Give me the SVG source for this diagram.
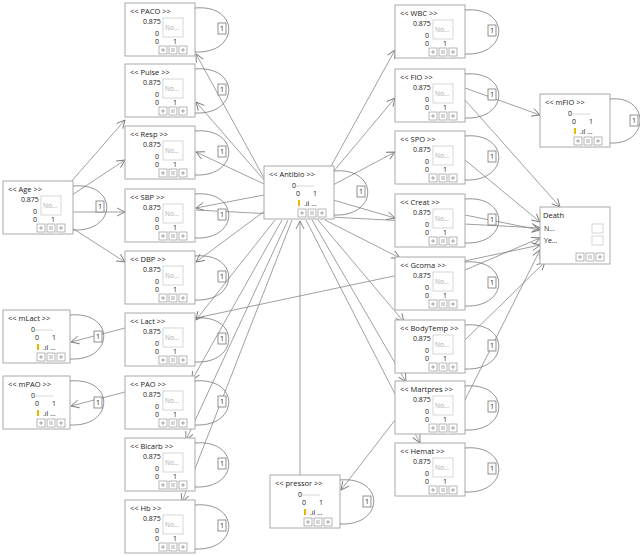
<svg xmlns="http://www.w3.org/2000/svg" width="640" height="557" viewBox="0 0 640 557">
<style>
text{font-family:"Open Sans","DejaVu Sans",sans-serif;font-size:7px;fill:#222}
.t{font-size:7.5px}
.box{fill:#fff;stroke:#aaa;stroke-width:1}
.sb{fill:#fff;stroke:#ccc;stroke-width:0.8}
.btn{fill:#fff;stroke:#999;stroke-width:0.7}
.g{fill:#aaa;font-size:6.5px}
.e{fill:none;stroke:#888;stroke-width:0.8;marker-end:url(#a)}
.l{fill:none;stroke:#777;stroke-width:0.8}
.lb{fill:#fff;stroke:#777;stroke-width:0.8}
.y{fill:#e6b800}
</style>
<defs>
<marker id="a" markerWidth="10" markerHeight="10" refX="9" refY="5" orient="auto" markerUnits="userSpaceOnUse"><path d="M1,1 L9,5 L1,9" fill="none" stroke="#777" stroke-width="0.9"/></marker>
<g id="bt"><rect class="btn" x="0" y="0" width="8" height="8"/><rect class="btn" x="10" y="0" width="8" height="8"/><rect class="btn" x="20" y="0" width="8" height="8"/><path d="M2,4h4M4,2v4M22,4h4M24,2v4M12,3h4M12,5h4" stroke="#777" stroke-width="0.6"/></g>
</defs>
<g id="connectors">
<path class="e" d="M264,178 L196,54"/>
<path class="e" d="M264,180 L196,102"/>
<path class="e" d="M264,184 L196,152"/>
<path class="e" d="M264,195 L196,208"/>
<path class="e" d="M266,210 L196,262"/>
<path class="e" d="M275,220 L196,320"/>
<path class="e" d="M282,220 L192,380"/>
<path class="e" d="M288,220 L186,440"/>
<path class="e" d="M292,220 L182,502"/>
<path class="e" d="M330,168 L395,50"/>
<path class="e" d="M333,172 L395,98"/>
<path class="e" d="M333,185 L395,152"/>
<path class="e" d="M333,200 L395,218"/>
<path class="e" d="M325,220 L400,258"/>
<path class="e" d="M318,220 L404,322"/>
<path class="e" d="M312,220 L406,382"/>
<path class="e" d="M306,220 L420,443"/>
<path class="e" d="M300,475 L300,221"/>
<path class="e" d="M395,420 L341,490"/>
<path class="e" d="M70,183 L125,120"/>
<path class="e" d="M72,195 L125,160"/>
<path class="e" d="M72,212 L125,212"/>
<path class="e" d="M72,228 L125,262"/>
<path class="e" d="M125,328 L71,342"/>
<path class="e" d="M125,392 L71,406"/>
<path class="e" d="M465,88 L540,115"/>
<path class="e" d="M465,100 L560,207"/>
<path class="e" d="M196,210 L540,228"/>
<path class="e" d="M465,215 L540,230"/>
<path class="e" d="M465,160 L540,222"/>
<path class="e" d="M465,270 L540,238"/>
<path class="e" d="M196,318 L540,245"/>
<path class="e" d="M465,340 L545,262"/>
<path class="e" d="M465,400 L540,250"/>
</g>
<g id="PACO"><rect class="box" x="125" y="3" width="70" height="53"/><text x="130" y="14" class="t">&lt;&lt; PACO &gt;&gt;</text><text x="143" y="24">0.875</text><rect class="sb" x="163" y="18" width="20" height="19"/><text x="165" y="30" class="g">No...</text><text x="155" y="36">0</text><text x="155" y="44">0</text><text x="173" y="44">1</text><use href="#bt" x="159" y="46"/><path class="l" d="M195,8 C240,4 240,54 195,52"/><rect class="lb" x="218" y="23" width="8" height="11"/><text x="220" y="31">1</text></g>
<g id="Pulse"><rect class="box" x="125" y="64" width="70" height="53"/><text x="130" y="75" class="t">&lt;&lt; Pulse &gt;&gt;</text><text x="143" y="85">0.875</text><rect class="sb" x="163" y="79" width="20" height="19"/><text x="165" y="91" class="g">No...</text><text x="155" y="97">0</text><text x="155" y="105">0</text><text x="173" y="105">1</text><use href="#bt" x="159" y="107"/><path class="l" d="M195,69 C240,65 240,115 195,113"/><rect class="lb" x="218" y="84" width="8" height="11"/><text x="220" y="92">1</text></g>
<g id="Resp"><rect class="box" x="125" y="126" width="70" height="53"/><text x="130" y="137" class="t">&lt;&lt; Resp &gt;&gt;</text><text x="143" y="147">0.875</text><rect class="sb" x="163" y="141" width="20" height="19"/><text x="165" y="153" class="g">No...</text><text x="155" y="159">0</text><text x="155" y="167">0</text><text x="173" y="167">1</text><use href="#bt" x="159" y="169"/><path class="l" d="M195,131 C240,127 240,177 195,175"/><rect class="lb" x="218" y="146" width="8" height="11"/><text x="220" y="154">1</text></g>
<g id="SBP"><rect class="box" x="125" y="189" width="70" height="53"/><text x="130" y="200" class="t">&lt;&lt; SBP &gt;&gt;</text><text x="143" y="210">0.875</text><rect class="sb" x="163" y="204" width="20" height="19"/><text x="165" y="216" class="g">No...</text><text x="155" y="222">0</text><text x="155" y="230">0</text><text x="173" y="230">1</text><use href="#bt" x="159" y="232"/><path class="l" d="M195,194 C240,190 240,240 195,238"/><rect class="lb" x="218" y="209" width="8" height="11"/><text x="220" y="217">1</text></g>
<g id="DBP"><rect class="box" x="125" y="251" width="70" height="53"/><text x="130" y="262" class="t">&lt;&lt; DBP &gt;&gt;</text><text x="143" y="272">0.875</text><rect class="sb" x="163" y="266" width="20" height="19"/><text x="165" y="278" class="g">No...</text><text x="155" y="284">0</text><text x="155" y="292">0</text><text x="173" y="292">1</text><use href="#bt" x="159" y="294"/><path class="l" d="M195,256 C240,252 240,302 195,300"/><rect class="lb" x="218" y="271" width="8" height="11"/><text x="220" y="279">1</text></g>
<g id="Lact"><rect class="box" x="125" y="313" width="70" height="53"/><text x="130" y="324" class="t">&lt;&lt; Lact &gt;&gt;</text><text x="143" y="334">0.875</text><rect class="sb" x="163" y="328" width="20" height="19"/><text x="165" y="340" class="g">No...</text><text x="155" y="346">0</text><text x="155" y="354">0</text><text x="173" y="354">1</text><use href="#bt" x="159" y="356"/><path class="l" d="M195,318 C240,314 240,364 195,362"/><rect class="lb" x="218" y="333" width="8" height="11"/><text x="220" y="341">1</text></g>
<g id="PAO"><rect class="box" x="125" y="376" width="70" height="53"/><text x="130" y="387" class="t">&lt;&lt; PAO &gt;&gt;</text><text x="143" y="397">0.875</text><rect class="sb" x="163" y="391" width="20" height="19"/><text x="165" y="403" class="g">No...</text><text x="155" y="409">0</text><text x="155" y="417">0</text><text x="173" y="417">1</text><use href="#bt" x="159" y="419"/><path class="l" d="M195,381 C240,377 240,427 195,425"/><rect class="lb" x="218" y="396" width="8" height="11"/><text x="220" y="404">1</text></g>
<g id="Bicarb"><rect class="box" x="125" y="438" width="70" height="53"/><text x="130" y="449" class="t">&lt;&lt; Bicarb &gt;&gt;</text><text x="143" y="459">0.875</text><rect class="sb" x="163" y="453" width="20" height="19"/><text x="165" y="465" class="g">No...</text><text x="155" y="471">0</text><text x="155" y="479">0</text><text x="173" y="479">1</text><use href="#bt" x="159" y="481"/><path class="l" d="M195,443 C240,439 240,489 195,487"/><rect class="lb" x="218" y="458" width="8" height="11"/><text x="220" y="466">1</text></g>
<g id="Hb"><rect class="box" x="125" y="500" width="70" height="53"/><text x="130" y="511" class="t">&lt;&lt; Hb &gt;&gt;</text><text x="143" y="521">0.875</text><rect class="sb" x="163" y="515" width="20" height="19"/><text x="165" y="527" class="g">No...</text><text x="155" y="533">0</text><text x="155" y="541">0</text><text x="173" y="541">1</text><use href="#bt" x="159" y="543"/><path class="l" d="M195,505 C240,501 240,551 195,549"/><rect class="lb" x="218" y="520" width="8" height="11"/><text x="220" y="528">1</text></g>
<g id="Age"><rect class="box" x="3" y="181" width="70" height="53"/><text x="8" y="192" class="t">&lt;&lt; Age &gt;&gt;</text><text x="21" y="202">0.875</text><rect class="sb" x="41" y="196" width="20" height="19"/><text x="43" y="208" class="g">No...</text><text x="33" y="214">0</text><text x="33" y="222">0</text><text x="51" y="222">1</text><use href="#bt" x="37" y="224"/><path class="l" d="M73,186 C118,182 118,232 73,230"/><rect class="lb" x="96" y="201" width="8" height="11"/><text x="98" y="209">1</text></g>
<g id="WBC"><rect class="box" x="395" y="5" width="70" height="53"/><text x="400" y="16" class="t">&lt;&lt; WBC &gt;&gt;</text><text x="413" y="26">0.875</text><rect class="sb" x="433" y="20" width="20" height="19"/><text x="435" y="32" class="g">No...</text><text x="425" y="38">0</text><text x="425" y="46">0</text><text x="443" y="46">1</text><use href="#bt" x="429" y="48"/><path class="l" d="M465,10 C510,6 510,56 465,54"/><rect class="lb" x="488" y="25" width="8" height="11"/><text x="490" y="33">1</text></g>
<g id="FIO"><rect class="box" x="395" y="69" width="70" height="53"/><text x="400" y="80" class="t">&lt;&lt; FIO &gt;&gt;</text><text x="413" y="90">0.875</text><rect class="sb" x="433" y="84" width="20" height="19"/><text x="435" y="96" class="g">No...</text><text x="425" y="102">0</text><text x="425" y="110">0</text><text x="443" y="110">1</text><use href="#bt" x="429" y="112"/><path class="l" d="M465,74 C510,70 510,120 465,118"/><rect class="lb" x="488" y="89" width="8" height="11"/><text x="490" y="97">1</text></g>
<g id="SPO"><rect class="box" x="395" y="131" width="70" height="53"/><text x="400" y="142" class="t">&lt;&lt; SPO &gt;&gt;</text><text x="413" y="152">0.875</text><rect class="sb" x="433" y="146" width="20" height="19"/><text x="435" y="158" class="g">No...</text><text x="425" y="164">0</text><text x="425" y="172">0</text><text x="443" y="172">1</text><use href="#bt" x="429" y="174"/><path class="l" d="M465,136 C510,132 510,182 465,180"/><rect class="lb" x="488" y="151" width="8" height="11"/><text x="490" y="159">1</text></g>
<g id="Creat"><rect class="box" x="395" y="194" width="70" height="53"/><text x="400" y="205" class="t">&lt;&lt; Creat &gt;&gt;</text><text x="413" y="215">0.875</text><rect class="sb" x="433" y="209" width="20" height="19"/><text x="435" y="221" class="g">No...</text><text x="425" y="227">0</text><text x="425" y="235">0</text><text x="443" y="235">1</text><use href="#bt" x="429" y="237"/><path class="l" d="M465,199 C510,195 510,245 465,243"/><rect class="lb" x="488" y="214" width="8" height="11"/><text x="490" y="222">1</text></g>
<g id="Gcoma"><rect class="box" x="395" y="257" width="70" height="53"/><text x="400" y="268" class="t">&lt;&lt; Gcoma &gt;&gt;</text><text x="413" y="278">0.875</text><rect class="sb" x="433" y="272" width="20" height="19"/><text x="435" y="284" class="g">No...</text><text x="425" y="290">0</text><text x="425" y="298">0</text><text x="443" y="298">1</text><use href="#bt" x="429" y="300"/><path class="l" d="M465,262 C510,258 510,308 465,306"/><rect class="lb" x="488" y="277" width="8" height="11"/><text x="490" y="285">1</text></g>
<g id="BodyTemp"><rect class="box" x="395" y="320" width="70" height="53"/><text x="400" y="331" class="t">&lt;&lt; BodyTemp &gt;&gt;</text><text x="413" y="341">0.875</text><rect class="sb" x="433" y="335" width="20" height="19"/><text x="435" y="347" class="g">No...</text><text x="425" y="353">0</text><text x="425" y="361">0</text><text x="443" y="361">1</text><use href="#bt" x="429" y="363"/><path class="l" d="M465,325 C510,321 510,371 465,369"/><rect class="lb" x="488" y="340" width="8" height="11"/><text x="490" y="348">1</text></g>
<g id="Martpres"><rect class="box" x="395" y="381" width="70" height="53"/><text x="400" y="392" class="t">&lt;&lt; Martpres &gt;&gt;</text><text x="413" y="402">0.875</text><rect class="sb" x="433" y="396" width="20" height="19"/><text x="435" y="408" class="g">No...</text><text x="425" y="414">0</text><text x="425" y="422">0</text><text x="443" y="422">1</text><use href="#bt" x="429" y="424"/><path class="l" d="M465,386 C510,382 510,432 465,430"/><rect class="lb" x="488" y="401" width="8" height="11"/><text x="490" y="409">1</text></g>
<g id="Hemat"><rect class="box" x="395" y="443" width="70" height="53"/><text x="400" y="454" class="t">&lt;&lt; Hemat &gt;&gt;</text><text x="413" y="464">0.875</text><rect class="sb" x="433" y="458" width="20" height="19"/><text x="435" y="470" class="g">No...</text><text x="425" y="476">0</text><text x="425" y="484">0</text><text x="443" y="484">1</text><use href="#bt" x="429" y="486"/><path class="l" d="M465,448 C510,444 510,494 465,492"/><rect class="lb" x="488" y="463" width="8" height="11"/><text x="490" y="471">1</text></g>
<g id="Antibio"><rect class="box" x="264" y="166" width="70" height="53"/><text x="269" y="177" class="t">&lt;&lt; Antibio &gt;&gt;</text><text x="292" y="188">0</text><line x1="296" y1="186" x2="314" y2="186" stroke="#ccc" stroke-width="0.8"/><text x="296" y="196">0</text><text x="313" y="196">1</text><rect class="y" x="298" y="200" width="2" height="6"/><text x="304" y="206">.ıl ...</text><use href="#bt" x="298" y="209"/><path class="l" d="M334,171 C379,167 379,217 334,215"/><rect class="lb" x="357" y="186" width="8" height="11"/><text x="359" y="194">1</text></g>
<g id="mLact"><rect class="box" x="3" y="310" width="67" height="53"/><text x="8" y="321" class="t">&lt;&lt; mLact &gt;&gt;</text><text x="31" y="332">0</text><line x1="35" y1="330" x2="53" y2="330" stroke="#ccc" stroke-width="0.8"/><text x="35" y="340">0</text><text x="52" y="340">1</text><rect class="y" x="37" y="344" width="2" height="6"/><text x="43" y="350">.ıl ...</text><use href="#bt" x="37" y="353"/><path class="l" d="M70,315 C115,311 115,361 70,359"/><rect class="lb" x="94" y="331" width="8" height="11"/><text x="96" y="339">1</text></g>
<g id="mPAO"><rect class="box" x="3" y="376" width="67" height="53"/><text x="8" y="387" class="t">&lt;&lt; mPAO &gt;&gt;</text><text x="31" y="398">0</text><line x1="35" y1="396" x2="53" y2="396" stroke="#ccc" stroke-width="0.8"/><text x="35" y="406">0</text><text x="52" y="406">1</text><rect class="y" x="37" y="410" width="2" height="6"/><text x="43" y="416">.ıl ...</text><use href="#bt" x="37" y="419"/><path class="l" d="M70,381 C115,377 115,427 70,425"/><rect class="lb" x="94" y="397" width="8" height="11"/><text x="96" y="405">1</text></g>
<g id="mFIO"><rect class="box" x="540" y="94" width="70" height="53"/><text x="545" y="105" class="t">&lt;&lt; mFIO &gt;&gt;</text><text x="568" y="116">0</text><line x1="572" y1="114" x2="590" y2="114" stroke="#ccc" stroke-width="0.8"/><text x="572" y="124">0</text><text x="589" y="124">1</text><rect class="y" x="574" y="128" width="2" height="6"/><text x="580" y="134">.ıl ...</text><use href="#bt" x="574" y="137"/><path class="l" d="M610,99 C650,95 650,145 610,143"/><rect class="lb" x="630" y="115" width="8" height="11"/><text x="632" y="123">1</text></g>
<g id="pressor"><rect class="box" x="270" y="475" width="70" height="53"/><text x="275" y="486" class="t">&lt;&lt; pressor &gt;&gt;</text><text x="298" y="497">0</text><line x1="302" y1="495" x2="320" y2="495" stroke="#ccc" stroke-width="0.8"/><text x="302" y="505">0</text><text x="319" y="505">1</text><rect class="y" x="304" y="509" width="2" height="6"/><text x="310" y="515">.ıl ...</text><use href="#bt" x="304" y="518"/><path class="l" d="M340,480 C385,476 385,526 340,524"/><rect class="lb" x="363" y="496" width="8" height="11"/><text x="365" y="504">1</text></g>
<g id="Death"><rect class="box" x="540" y="207" width="70" height="57"/><text x="543" y="218" class="t">Death</text><text x="544" y="231">N...</text><text x="544" y="243">Ye...</text><rect class="sb" x="592" y="224" width="11" height="9"/><rect class="sb" x="592" y="236" width="11" height="9"/><use href="#bt" x="576" y="253"/></g>
</svg>
